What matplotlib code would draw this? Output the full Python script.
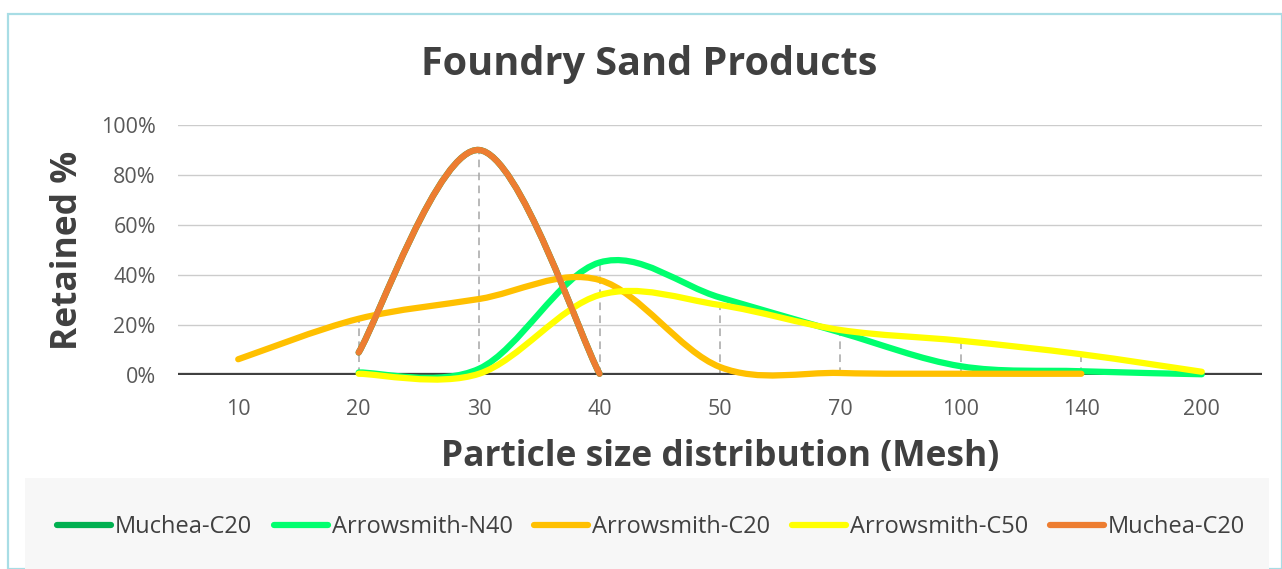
import numpy as np
import matplotlib
matplotlib.use("Agg")
import matplotlib.pyplot as plt
from matplotlib.path import Path
from matplotlib.patches import PathPatch, Rectangle
from matplotlib.lines import Line2D
from matplotlib.ticker import FuncFormatter

plt.rcParams['font.family'] = ['Open Sans', 'DejaVu Sans']

# ---- data ----
categories = ["10", "20", "30", "40", "50", "70", "100", "140", "200"]
nan = np.nan
muchea_c20_green = [nan, 9, 90, 0.5, nan, nan, nan, nan, nan]
arrowsmith_n40 = [nan, 1, 2.5, 45, 31, 17, 3.5, 1.5, 0.3]
arrowsmith_c20 = [6.3, 22.5, 30.4, 38, 3.2, 0.8, 0.5, 0.5, nan]
arrowsmith_c50 = [nan, 0.5, 0.5, 32, 28, 18, 13.7, 8.3, 1.3]
muchea_c20_orange = [nan, 9, 90, 0.5, nan, nan, nan, nan, nan]

series_names = ["Muchea-C20", "Arrowsmith-N40", "Arrowsmith-C20", "Arrowsmith-C50", "Muchea-C20"]
series_values = [muchea_c20_green, arrowsmith_n40, arrowsmith_c20, arrowsmith_c50, muchea_c20_orange]
series_colors = ["#00B050", "#00FF6E", "#FFC000", "#FFFF00", "#ED7D31"]
y_ticks = [0, 20, 40, 60, 80, 100]

W, H = 1282, 569
fig = plt.figure(figsize=(W / 100, H / 100), dpi=100)

# border & legend background
fig.patches.append(Rectangle((8 / W, 0), 1 - 8 / W, 1 - 14 / H, transform=fig.transFigure,
                             fill=False, edgecolor="#A8DDE5", lw=1.6, zorder=0))
fig.patches.append(Rectangle((25 / W, 0), (1269 - 25) / W, (H - 478) / H, transform=fig.transFigure,
                             facecolor="#F7F7F7", edgecolor="none", zorder=0))

ax = fig.add_axes([178 / W, 1 - 375 / H, (1262 - 178) / W, 250 / H])
ax.set_facecolor("none")
ax.set_xlim(-0.5, len(categories) - 0.5)
ax.set_ylim(0, 100)
for s in ax.spines.values():
    s.set_visible(False)

# gridlines
for yv in y_ticks[1:]:
    ax.axhline(yv, color="#CCCCCC", lw=1.0, zorder=0.5)
ax.axhline(0, color="#404040", lw=3.8, zorder=1.5)

x = np.arange(len(categories))

# drop lines
vals = np.array(series_values, dtype=float)
for i in range(len(categories)):
    col = vals[:, i]
    if np.sum(~np.isnan(col)) >= 2:
        ax.plot([x[i], x[i]], [0, np.nanmax(col)], color="#A6A6A6", lw=1.1,
                linestyle=(0, (5, 3.5)), zorder=1)


def smooth_path(xs, ys):
    m = ~np.isnan(ys)
    pts = np.column_stack([xs[m], ys[m]])
    n = len(pts)
    verts = [pts[0]]
    codes = [Path.MOVETO]
    for i in range(n - 1):
        p0 = pts[i - 1] if i > 0 else pts[i]
        p1 = pts[i]
        p2 = pts[i + 1]
        p3 = pts[i + 2] if i + 2 < n else pts[i + 1]
        c1 = p1 + (p2 - p0) / 6.0
        c2 = p2 - (p3 - p1) / 6.0
        verts += [c1, c2, p2]
        codes += [Path.CURVE4] * 3
    return Path(verts, codes)


for k, (vals_k, col) in enumerate(zip(series_values, series_colors)):
    p = smooth_path(x.astype(float), np.array(vals_k, dtype=float))
    patch = PathPatch(p, fill=False, edgecolor=col, lw=4.5, capstyle="round",
                      joinstyle="round", transform=ax.transData, zorder=2 + k, clip_on=False)
    ax.add_patch(patch)

ax.set_xticks(x)
ax.set_xticklabels(categories)
ax.set_yticks(y_ticks)
ax.yaxis.set_major_formatter(FuncFormatter(lambda v, pos: f"{int(v)}%"))
ax.tick_params(axis="both", length=0, labelsize=15.5, labelcolor="#595959")
ax.tick_params(axis="x", pad=17)
ax.tick_params(axis="y", pad=16)

fig.text(649 / W, 1 - 65 / H, "Foundry Sand Products", ha="center", va="center",
         fontsize=28.5, fontweight="bold", color="#404040")
fig.text(68 / W, 1 - 250 / H, "Retained %", ha="center", va="center", rotation=90,
         fontsize=25.5, fontweight="bold", color="#404040")
fig.text(720 / W, 1 - 457 / H, "Particle size distribution (Mesh)", ha="center", va="center",
         fontsize=25.5, fontweight="bold", color="#404040")

handles = [Line2D([0], [0], color=c, lw=4.5, solid_capstyle="round") for c in series_colors]
fig.legend(handles, series_names, loc="center", bbox_to_anchor=(651 / W, 1 - 527 / H),
           ncol=5, frameon=False, fontsize=17, handlelength=2.3, handletextpad=0.17,
           columnspacing=0.9, labelcolor="#404040")

fig.savefig("out.png", dpi=100)
